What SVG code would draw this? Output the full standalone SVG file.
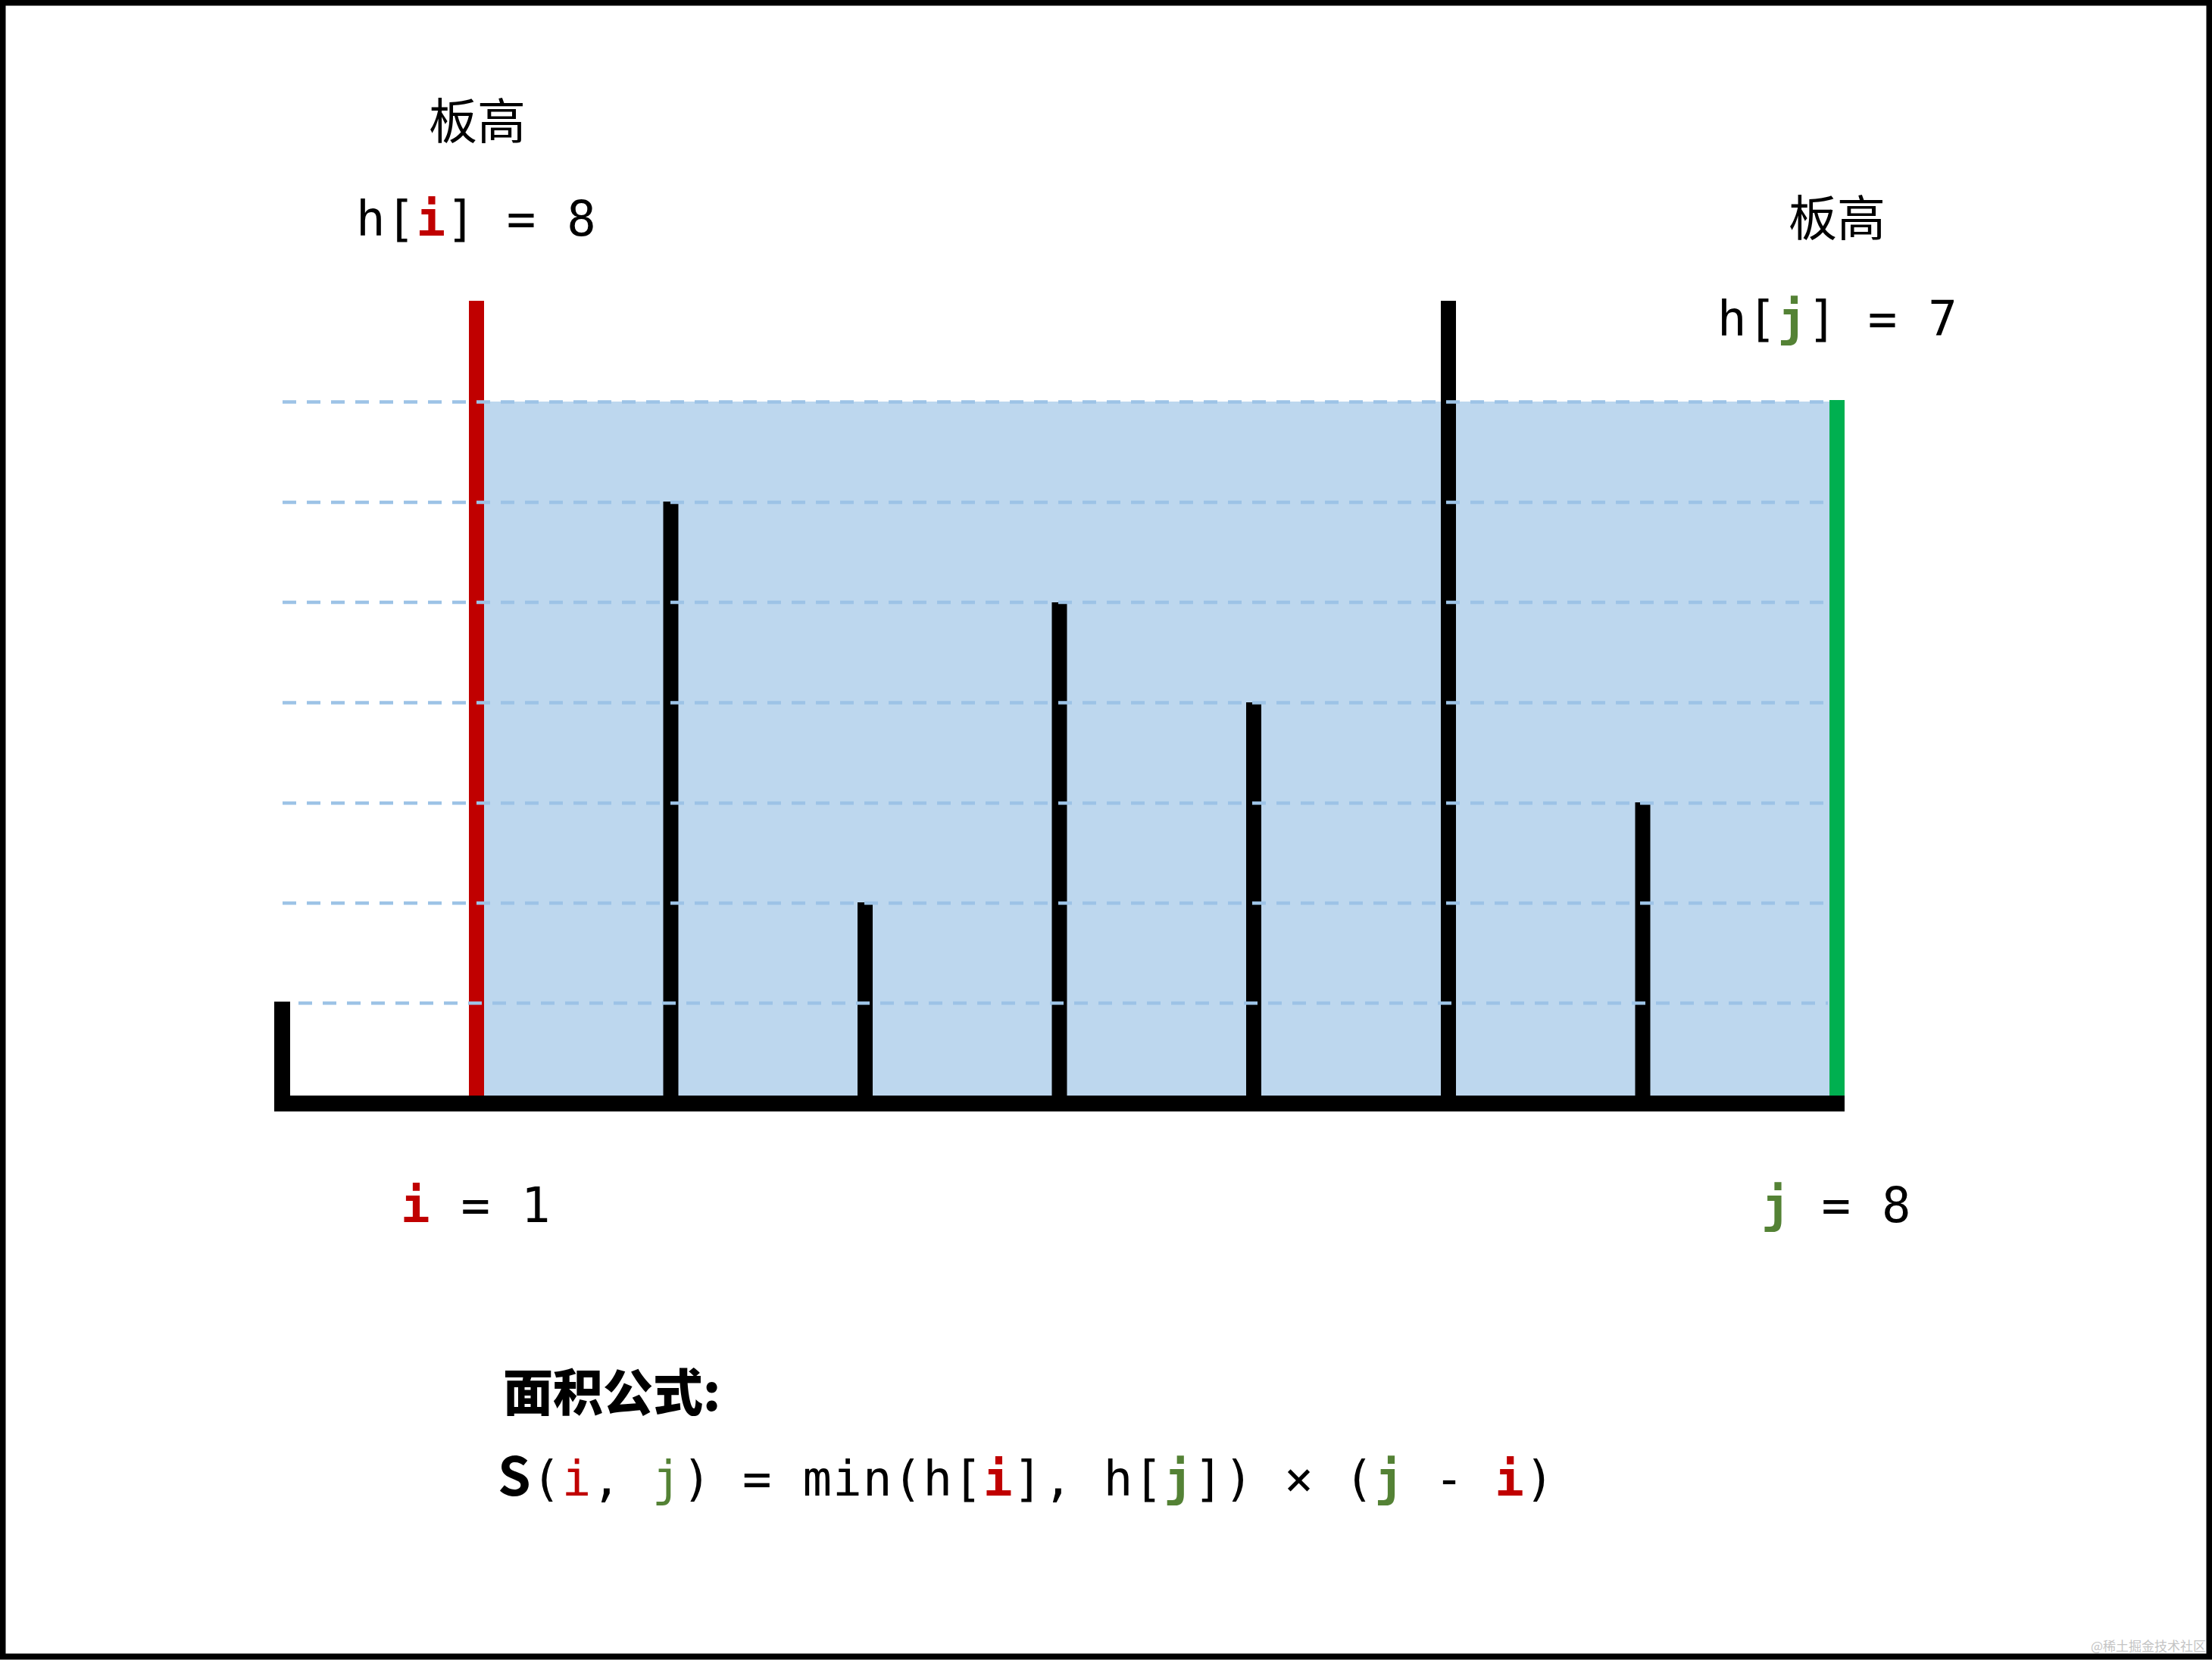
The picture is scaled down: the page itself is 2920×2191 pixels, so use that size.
<svg xmlns="http://www.w3.org/2000/svg" width="2920" height="2191" viewBox="0 0 2920 2191">
<style>
.mono{font-family:"DejaVu Sans Mono","Liberation Mono",monospace;font-size:64px;letter-spacing:1.2px;fill:#000;white-space:pre}
.cjk{font-family:"Noto Sans CJK SC","Noto Sans",sans-serif;font-size:64px;fill:#000}
.red{fill:#C00000}
.grn{fill:#548235}
.b{font-weight:bold}
.bar{fill:#000}
.dash{stroke:#9DC3E6;stroke-width:4.5;stroke-dasharray:18 14;fill:none}
</style>
<rect x="0" y="0" width="2920" height="2191" fill="#fff"/>
<g id="water">
<rect x="639" y="530" width="1776" height="916" fill="#BDD7EE"/>
</g>
<g id="bars">
<rect id="bar0" class="bar" x="362" y="1322" width="21" height="134"/>
<rect id="bar1" x="619" y="397" width="20" height="1059" fill="#C00000"/>
<rect id="bar2" class="bar" x="875.5" y="662" width="20" height="794"/>
<rect id="bar3" class="bar" x="1132" y="1191" width="20" height="265"/>
<rect id="bar4" class="bar" x="1388.5" y="795" width="20" height="661"/>
<rect id="bar5" class="bar" x="1645" y="927" width="20" height="529"/>
<rect id="bar6" class="bar" x="1902" y="397" width="20" height="1059"/>
<rect id="bar7" class="bar" x="2158.5" y="1059" width="20" height="397"/>
<rect id="bar8" x="2415" y="528" width="20" height="928" fill="#00B050"/>
</g>
<g id="gridlines">
<line class="dash" x1="373" y1="530.5" x2="2413" y2="530.5"/>
<line class="dash" x1="373" y1="663" x2="2413" y2="663"/>
<line class="dash" x1="373" y1="795" x2="2413" y2="795"/>
<line class="dash" x1="373" y1="927.5" x2="2413" y2="927.5"/>
<line class="dash" x1="373" y1="1060" x2="2413" y2="1060"/>
<line class="dash" x1="373" y1="1192" x2="2413" y2="1192"/>
<line class="dash" x1="394" y1="1324" x2="2413" y2="1324"/>
</g>
<g id="baseline">
<rect x="362" y="1446" width="2073" height="21" fill="#000"/>
</g>
<g id="label-left">
<text class="cjk" x="630" y="183" text-anchor="middle">板高</text>
<text class="mono" x="470" y="311" xml:space="preserve">h[<tspan class="red b">i</tspan>] = 8</text>
</g>
<g id="label-right">
<text class="cjk" x="2425" y="311" text-anchor="middle">板高</text>
<text class="mono" x="2267" y="443" xml:space="preserve">h[<tspan class="grn b">j</tspan>] = 7</text>
</g>
<g id="index-i">
<text class="mono" x="529" y="1613" xml:space="preserve"><tspan class="red b">i</tspan> = 1</text>
</g>
<g id="index-j">
<text class="mono" x="2325" y="1613" xml:space="preserve"><tspan class="grn b">j</tspan> = 8</text>
</g>
<g id="formula">
<text class="cjk" x="664" y="1862" style="font-weight:900;font-size:66px">面积公式:</text>
<text class="mono" x="657" y="1974" xml:space="preserve"><tspan style="font-family:'Noto Sans CJK SC','Noto Sans',sans-serif;font-weight:bold;font-size:70px">S</tspan>(<tspan class="red">i</tspan>, <tspan class="grn">j</tspan>) = min(h[<tspan class="red b">i</tspan>], h[<tspan class="grn b">j</tspan>]) × (<tspan class="grn b">j</tspan> - <tspan class="red b">i</tspan>)</text>
</g>
<text x="2912" y="2179" text-anchor="end" style="font-family:'Noto Sans CJK SC',sans-serif;font-size:17px;fill:#c4c4c4">@稀土掘金技术社区</text>
<rect x="3.5" y="3.5" width="2913" height="2183" fill="none" stroke="#000" stroke-width="8"/>
</svg>
